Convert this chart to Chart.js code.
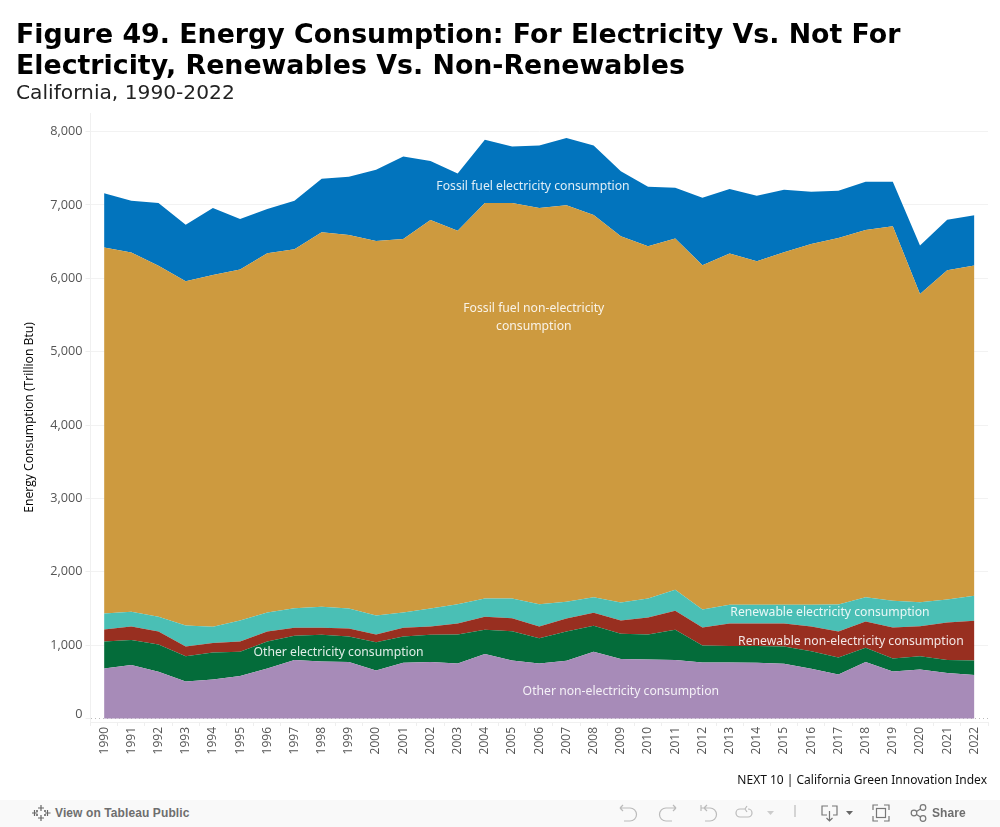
<!DOCTYPE html>
<html>
<head>
<meta charset="utf-8">
<title>Figure 49</title>
<script src="https://cdn.jsdelivr.net/npm/chart.js@4/dist/chart.umd.min.js"></script>
<style>
html, body { margin: 0; padding: 0; background: #fff; }
body { width: 1000px; height: 827px; position: relative; overflow: hidden; }
#wrap { position: absolute; left: 0; top: 0; width: 1000px; height: 800px; }
h1 { position: absolute; left: 16px; top: 18px; margin: 0; font: bold 26.8px/31px "DejaVu Sans", sans-serif; color: #000; white-space: nowrap; }
#sub { position: absolute; left: 16px; top: 80px; font: 20.2px/24px "DejaVu Sans", sans-serif; color: #222; white-space: nowrap; }
#credit { position: absolute; right: 13px; top: 771px; font: 12px/18px "Noto Sans", sans-serif; color: #111; white-space: nowrap; }
#bar { position: absolute; left: 0; top: 800px; width: 1000px; height: 27px; background: #f9f9f9; font: bold 12px/27px "Liberation Sans", sans-serif; color: #6e6e6e; }
#bar span { position: absolute; top: 0; white-space: nowrap; letter-spacing: 0.1px; }
#bar svg { position: absolute; left: 0; top: 0; }
</style>
</head>
<body>
<div id="wrap"><canvas id="chart" width="1000" height="800"></canvas></div>
<h1>Figure 49. Energy Consumption: For Electricity Vs. Not For<br>Electricity, Renewables Vs. Non-Renewables</h1>
<div id="sub">California, 1990-2022</div>
<div id="credit">NEXT 10 | California Green Innovation Index</div>
<div id="bar">
  <svg width="1000" height="27" fill="none" stroke="#777" stroke-width="1.2">
    <g stroke="#666">
      <path d="M41 5v6M38 8h6M41 15v6M38 18h6M34.500 10v6M32 13h5.500M47.500 10v6M45 13h5.500M37 10v2M36 11h2M45 10v2M44 11h2M37 14v2M36 15h2M45 14v2M44 15h2"/>
    </g>
    <g stroke="#bbb">
      <path d="M620 8h10a5.500 5.500 0 0 1 0 13h-6M620 8l3-3M620 8l3 3"/>
      <path d="M676 8h-10a5.500 5.500 0 0 0 0 13h6M676 8l-3-3M676 8l-3 3"/>
      <path d="M701 5v6M701 8h9a5.500 5.500 0 0 1 0 13h-5M704 8l3-3M704 8l3 3"/>
      <path d="M745 9h-5a4 4 0 0 0 0 8h8a4 4 0 0 0 0-8M745 9l2-3M745 9l2 3"/>
      <path d="M795 5v12"/>
    </g>
    <path d="M767 11h7l-3.500 4z" fill="#ccc" stroke="none"/>
    <path d="M828 6h-6v9h5M832 6h5v9h-4M829.500 11v10M826.500 18l3 3 3-3"/>
    <path d="M846 11h7l-3.500 4z" fill="#666" stroke="none"/>
    <path d="M873 10V5h5M884 5h5v5M889 16v5h-5M878 21h-5v-5"/>
    <rect x="876.500" y="8.500" width="9" height="9"/>
    <circle cx="914" cy="13" r="2.800"/><circle cx="923" cy="7.500" r="2.800"/><circle cx="923" cy="18.500" r="2.800"/>
    <path d="M916.500 11.500l4-2.500M916.500 14.500l4 2.500"/>
  </svg>
  <span style="left:55px">View on Tableau Public</span>
  <span style="left:932px">Share</span>
</div>
<script>
const years = ['1990','1991','1992','1993','1994','1995','1996','1997','1998','1999','2000','2001','2002','2003','2004','2005','2006','2007','2008','2009','2010','2011','2012','2013','2014','2015','2016','2017','2018','2019','2020','2021','2022'];
const yTicks = [0, 1000, 2000, 3000, 4000, 5000, 6000, 7000, 8000];

// trillion Btu
const otherNonElec = [682,732,637,505,532,582,682,800,778,773,655,760,773,750,882,791,750,787,910,814,805,800,764,764,760,746,678,600,773,641,669,623,596];
const otherElec = [368,341,373,345,368,328,368,328,364,346,386,359,369,396,328,401,346,400,354,341,341,410,232,227,231,236,241,232,191,178,181,177,195];
const renewNonElec = [164,182,177,132,132,140,137,109,95,109,105,118,113,150,177,177,159,177,178,182,232,259,246,305,305,314,336,355,359,423,410,510,542];
const renewElec = [219,200,200,287,219,287,259,268,287,273,259,209,246,264,250,268,305,228,213,246,259,286,245,255,255,255,296,368,332,363,327,314,341];
const fossilNonElec = [4987,4897,4782,4690,4795,4782,4896,4892,5102,5088,5102,5088,5294,5088,5390,5390,5399,5403,5208,4988,4801,4788,4691,4787,4682,4805,4915,4993,5003,5103,4198,4486,4500];
const fossilElec = [740,703,858,772,913,689,603,658,730,795,972,1124,803,781,859,768,849,918,945,886,809,690,918,877,890,849,712,644,657,607,663,689,684];

const area = (label, data, color, fill) => ({
    label, data, fill,
    backgroundColor: color,
    borderColor: color,
    borderWidth: 0,
    pointRadius: 0,
    tension: 0
});

// text on the bands, placed on the chart's own scales: [text, category index, value]
const bandLabels = [
    ['Fossil fuel electricity consumption', 15.77, 7255],
    ['Fossil fuel non-electricity', 15.8, 5590],
    ['consumption', 15.8, 5345],
    ['Renewable electricity consumption', 26.69, 1445],
    ['Renewable non-electricity consumption', 27.46, 1050],
    ['Other electricity consumption', 8.62, 900],
    ['Other non-electricity consumption', 19, 368]
];
const bandLabelPlugin = {
    id: 'bandLabels',
    afterDatasetsDraw(chart) {
        const { ctx, scales } = chart;
        ctx.save();
        ctx.font = '12.2px "Noto Sans", sans-serif';
        ctx.fillStyle = 'rgba(255, 255, 255, 0.88)';
        ctx.textAlign = 'center';
        ctx.textBaseline = 'middle';
        bandLabels.forEach(([text, x, y]) => {
            ctx.fillText(text, scales.x.getPixelForValue(x), scales.y.getPixelForValue(y));
        });
        ctx.restore();
    }
};

new Chart(document.getElementById('chart'), {
    type: 'line',
    data: {
        labels: years,
        datasets: [
            area('Other non-electricity consumption', otherNonElec, '#a78bb8', 'origin'),
            area('Other electricity consumption', otherElec, '#046c3a', '-1'),
            area('Renewable non-electricity consumption', renewNonElec, '#982f20', '-1'),
            area('Renewable electricity consumption', renewElec, '#4abfb5', '-1'),
            area('Fossil fuel non-electricity consumption', fossilNonElec, '#cd9a3f', '-1'),
            area('Fossil fuel electricity consumption', fossilElec, '#0274bd', '-1')
        ]
    },
    options: {
        responsive: false,
        animation: false,
        layout: { padding: { top: 113, right: 12, left: 0, bottom: 0 } },
        plugins: { legend: { display: false }, tooltip: { enabled: false } },
        scales: {
            x: {
                offset: true,
                afterFit: (scale) => { scale.height = 78; },
                border: { color: '#f0f0f0' },
                grid: { offset: true, drawOnChartArea: false, color: '#eeeeee', tickLength: 4 },
                ticks: {
                    autoSkip: false,
                    minRotation: 90,
                    maxRotation: 90,
                    padding: 1,
                    color: '#555',
                    font: { size: 12, family: '"Open Sans", sans-serif' }
                }
            },
            y: {
                stacked: true,
                min: -46,
                max: 8252,
                afterFit: (scale) => { scale.width = 90.5; },
                afterBuildTicks: (scale) => { scale.ticks = yTicks.map(value => ({ value })); },
                border: {
                    color: '#f0f0f0',
                    dash: (c) => (c.tick && c.tick.value === 0 ? [1, 3] : [])
                },
                grid: {
                    color: (c) => (c.tick && c.tick.value === 0 ? '#bbbbbb' : '#f2f2f2'),
                    tickColor: '#eeeeee',
                    tickLength: 5
                },
                title: {
                    display: true,
                    text: 'Energy Consumption (Trillion Btu)',
                    color: '#000',
                    padding: { top: 22, bottom: 0 },
                    font: { size: 12.2, family: '"Open Sans", sans-serif' }
                },
                ticks: {
                    padding: 3,
                    color: '#555',
                    // the zero label sits a little above its gridline in the original
                    font: (c) => ({
                        size: 12.7,
                        family: '"Open Sans", sans-serif',
                        lineHeight: c.tick && c.tick.value === 0 ? 0.7 : 1.2
                    }),
                    callback: (v) => (v === 0 ? ['0', ''] : v.toLocaleString('en-US'))
                }
            }
        }
    },
    plugins: [bandLabelPlugin]
});
</script>
</body>
</html>
